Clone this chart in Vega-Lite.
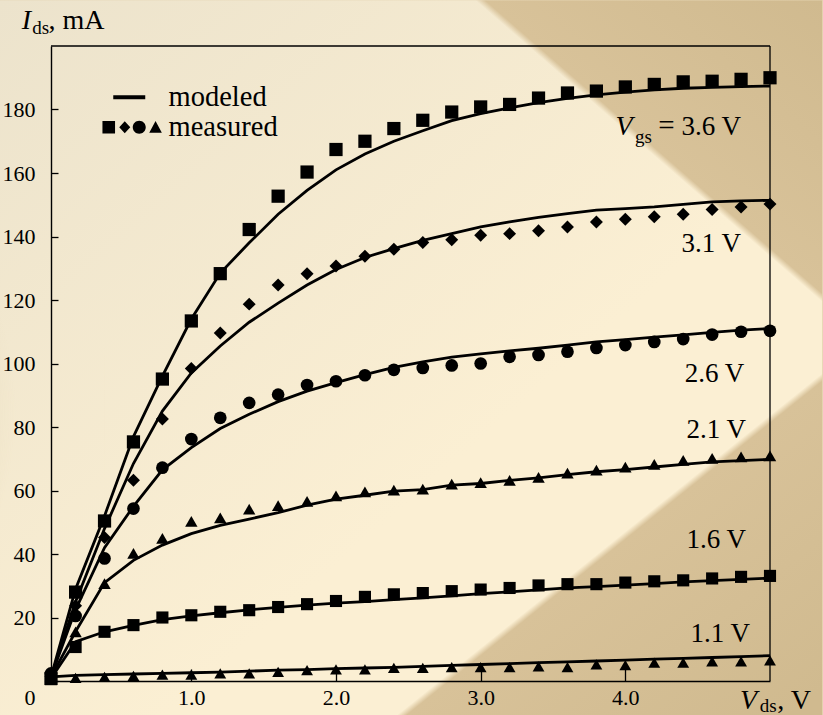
{
  "$schema": "https://vega.github.io/schema/vega-lite/v6.json",
  "width": 719,
  "height": 635,
  "autosize": {"type": "none"},
  "padding": {"left": 51, "top": 46, "right": 53, "bottom": 34},
  "background": "#e3d2ae",
  "config": {
    "font": "Liberation Serif",
    "view": {"stroke": null},
    "axis": {"grid": false, "domainColor": "black", "tickColor": "black", "labelColor": "black", "labelFont": "Liberation Serif", "zindex": 1},
    "legend": {"labelFont": "Liberation Serif"}
  },
  "datasets": {
    "one": [{}],
    "curves": [
      {"vgs": "3.6", "vds": 0.03, "model": 1.3, "meas": 0.8},
      {"vgs": "3.6", "vds": 0.2, "model": 29, "meas": 28},
      {"vgs": "3.6", "vds": 0.4, "model": 52, "meas": 50.4},
      {"vgs": "3.6", "vds": 0.6, "model": 77, "meas": 75.3},
      {"vgs": "3.6", "vds": 0.8, "model": 96, "meas": 95.1},
      {"vgs": "3.6", "vds": 1.0, "model": 114, "meas": 113.4},
      {"vgs": "3.6", "vds": 1.2, "model": 128.5, "meas": 128.3},
      {"vgs": "3.6", "vds": 1.4, "model": 138, "meas": 142.2},
      {"vgs": "3.6", "vds": 1.6, "model": 147, "meas": 152.7},
      {"vgs": "3.6", "vds": 1.8, "model": 154.5, "meas": 160.3},
      {"vgs": "3.6", "vds": 2.0, "model": 161, "meas": 167.4},
      {"vgs": "3.6", "vds": 2.2, "model": 166, "meas": 170},
      {"vgs": "3.6", "vds": 2.4, "model": 170, "meas": 174},
      {"vgs": "3.6", "vds": 2.6, "model": 173.3, "meas": 176.6},
      {"vgs": "3.6", "vds": 2.8, "model": 176.5, "meas": 179.2},
      {"vgs": "3.6", "vds": 3.0, "model": 178.7, "meas": 180.8},
      {"vgs": "3.6", "vds": 3.2, "model": 180.5, "meas": 181.6},
      {"vgs": "3.6", "vds": 3.4, "model": 182.2, "meas": 183.6},
      {"vgs": "3.6", "vds": 3.6, "model": 183.5, "meas": 185.2},
      {"vgs": "3.6", "vds": 3.8, "model": 184.6, "meas": 185.8},
      {"vgs": "3.6", "vds": 4.0, "model": 185.5, "meas": 187.1},
      {"vgs": "3.6", "vds": 4.2, "model": 186.2, "meas": 187.9},
      {"vgs": "3.6", "vds": 4.4, "model": 186.7, "meas": 188.7},
      {"vgs": "3.6", "vds": 4.6, "model": 187.0, "meas": 188.9},
      {"vgs": "3.6", "vds": 4.8, "model": 187.2, "meas": 189.5},
      {"vgs": "3.6", "vds": 5.0, "model": 187.4, "meas": 190},
      {"vgs": "3.1", "vds": 0.03, "model": 1.3, "meas": 1.5},
      {"vgs": "3.1", "vds": 0.2, "model": 25, "meas": 23.7},
      {"vgs": "3.1", "vds": 0.4, "model": 48, "meas": 45.2},
      {"vgs": "3.1", "vds": 0.6, "model": 68.5, "meas": 63.2},
      {"vgs": "3.1", "vds": 0.8, "model": 85, "meas": 82.5},
      {"vgs": "3.1", "vds": 1.0, "model": 97, "meas": 98.4},
      {"vgs": "3.1", "vds": 1.2, "model": 105.5, "meas": 109.6},
      {"vgs": "3.1", "vds": 1.4, "model": 113, "meas": 118.7},
      {"vgs": "3.1", "vds": 1.6, "model": 119, "meas": 124.7},
      {"vgs": "3.1", "vds": 1.8, "model": 124.7, "meas": 128.3},
      {"vgs": "3.1", "vds": 2.0, "model": 129.6, "meas": 130.7},
      {"vgs": "3.1", "vds": 2.2, "model": 133.4, "meas": 133.8},
      {"vgs": "3.1", "vds": 2.4, "model": 136.2, "meas": 136.0},
      {"vgs": "3.1", "vds": 2.6, "model": 138.8, "meas": 138.1},
      {"vgs": "3.1", "vds": 2.8, "model": 140.9, "meas": 139.0},
      {"vgs": "3.1", "vds": 3.0, "model": 143.0, "meas": 140.4},
      {"vgs": "3.1", "vds": 3.2, "model": 144.6, "meas": 140.9},
      {"vgs": "3.1", "vds": 3.4, "model": 146.0, "meas": 141.8},
      {"vgs": "3.1", "vds": 3.6, "model": 147.2, "meas": 143.0},
      {"vgs": "3.1", "vds": 3.8, "model": 148.3, "meas": 144.6},
      {"vgs": "3.1", "vds": 4.0, "model": 148.8, "meas": 145.4},
      {"vgs": "3.1", "vds": 4.2, "model": 149.3, "meas": 146.2},
      {"vgs": "3.1", "vds": 4.4, "model": 150.1, "meas": 147.0},
      {"vgs": "3.1", "vds": 4.6, "model": 150.9, "meas": 148.5},
      {"vgs": "3.1", "vds": 4.8, "model": 151.2, "meas": 149.3},
      {"vgs": "3.1", "vds": 5.0, "model": 151.4, "meas": 150.2},
      {"vgs": "2.6", "vds": 0.03, "model": 1.3, "meas": 2.4},
      {"vgs": "2.6", "vds": 0.2, "model": 22.5, "meas": 20.5},
      {"vgs": "2.6", "vds": 0.4, "model": 42, "meas": 38.6},
      {"vgs": "2.6", "vds": 0.6, "model": 55, "meas": 54.3},
      {"vgs": "2.6", "vds": 0.8, "model": 66.5, "meas": 67.2},
      {"vgs": "2.6", "vds": 1.0, "model": 73.5, "meas": 76.2},
      {"vgs": "2.6", "vds": 1.2, "model": 79.5, "meas": 82.9},
      {"vgs": "2.6", "vds": 1.4, "model": 84, "meas": 87.6},
      {"vgs": "2.6", "vds": 1.6, "model": 88, "meas": 90.2},
      {"vgs": "2.6", "vds": 1.8, "model": 91.3, "meas": 93.2},
      {"vgs": "2.6", "vds": 2.0, "model": 94, "meas": 94.4},
      {"vgs": "2.6", "vds": 2.2, "model": 96.5, "meas": 96.3},
      {"vgs": "2.6", "vds": 2.4, "model": 98.8, "meas": 98.0},
      {"vgs": "2.6", "vds": 2.6, "model": 100.5, "meas": 98.6},
      {"vgs": "2.6", "vds": 2.8, "model": 102, "meas": 99.4},
      {"vgs": "2.6", "vds": 3.0, "model": 103, "meas": 100.0},
      {"vgs": "2.6", "vds": 3.2, "model": 104, "meas": 102.1},
      {"vgs": "2.6", "vds": 3.4, "model": 104.8, "meas": 102.7},
      {"vgs": "2.6", "vds": 3.6, "model": 105.8, "meas": 103.7},
      {"vgs": "2.6", "vds": 3.8, "model": 106.8, "meas": 104.9},
      {"vgs": "2.6", "vds": 4.0, "model": 107.5, "meas": 105.8},
      {"vgs": "2.6", "vds": 4.2, "model": 108.3, "meas": 106.8},
      {"vgs": "2.6", "vds": 4.4, "model": 109, "meas": 107.7},
      {"vgs": "2.6", "vds": 4.6, "model": 109.8, "meas": 109.1},
      {"vgs": "2.6", "vds": 4.8, "model": 110.5, "meas": 110.0},
      {"vgs": "2.6", "vds": 5.0, "model": 111, "meas": 110.3},
      {"vgs": "2.1", "vds": 0.03, "model": 1.3, "meas": 1.5},
      {"vgs": "2.1", "vds": 0.2, "model": 15.6, "meas": 15.5},
      {"vgs": "2.1", "vds": 0.4, "model": 31, "meas": 30.7},
      {"vgs": "2.1", "vds": 0.6, "model": 38, "meas": 40.2},
      {"vgs": "2.1", "vds": 0.8, "model": 42.8, "meas": 44.9},
      {"vgs": "2.1", "vds": 1.0, "model": 46.4, "meas": 50.3},
      {"vgs": "2.1", "vds": 1.2, "model": 49, "meas": 51.4},
      {"vgs": "2.1", "vds": 1.4, "model": 51, "meas": 54.1},
      {"vgs": "2.1", "vds": 1.6, "model": 53, "meas": 55.2},
      {"vgs": "2.1", "vds": 1.8, "model": 55.4, "meas": 56.6},
      {"vgs": "2.1", "vds": 2.0, "model": 57.3, "meas": 58.3},
      {"vgs": "2.1", "vds": 2.2, "model": 58.5, "meas": 59.6},
      {"vgs": "2.1", "vds": 2.4, "model": 59.8, "meas": 60.1},
      {"vgs": "2.1", "vds": 2.6, "model": 60.3, "meas": 60.4},
      {"vgs": "2.1", "vds": 2.8, "model": 61.7, "meas": 62.0},
      {"vgs": "2.1", "vds": 3.0, "model": 62.2, "meas": 62.5},
      {"vgs": "2.1", "vds": 3.2, "model": 63.2, "meas": 63.2},
      {"vgs": "2.1", "vds": 3.4, "model": 64.0, "meas": 64.1},
      {"vgs": "2.1", "vds": 3.6, "model": 65.0, "meas": 65.5},
      {"vgs": "2.1", "vds": 3.8, "model": 65.9, "meas": 66.4},
      {"vgs": "2.1", "vds": 4.0, "model": 66.6, "meas": 67.4},
      {"vgs": "2.1", "vds": 4.2, "model": 67.4, "meas": 68.2},
      {"vgs": "2.1", "vds": 4.4, "model": 68.2, "meas": 69.5},
      {"vgs": "2.1", "vds": 4.6, "model": 69.0, "meas": 70.1},
      {"vgs": "2.1", "vds": 4.8, "model": 69.4, "meas": 70.6},
      {"vgs": "2.1", "vds": 5.0, "model": 69.8, "meas": 70.9},
      {"vgs": "1.6", "vds": 0.03, "model": 0.8, "meas": 0.6},
      {"vgs": "1.6", "vds": 0.2, "model": 12.4, "meas": 10.7},
      {"vgs": "1.6", "vds": 0.4, "model": 15.5, "meas": 15.5},
      {"vgs": "1.6", "vds": 0.6, "model": 17.5, "meas": 17.6},
      {"vgs": "1.6", "vds": 0.8, "model": 19.3, "meas": 20.0},
      {"vgs": "1.6", "vds": 1.0, "model": 20.5, "meas": 20.7},
      {"vgs": "1.6", "vds": 1.2, "model": 21.5, "meas": 21.8},
      {"vgs": "1.6", "vds": 1.4, "model": 22.4, "meas": 22.3},
      {"vgs": "1.6", "vds": 1.6, "model": 23.2, "meas": 23.3},
      {"vgs": "1.6", "vds": 1.8, "model": 23.9, "meas": 24.2},
      {"vgs": "1.6", "vds": 2.0, "model": 24.5, "meas": 25.2},
      {"vgs": "1.6", "vds": 2.2, "model": 25.0, "meas": 26.5},
      {"vgs": "1.6", "vds": 2.4, "model": 25.6, "meas": 27.3},
      {"vgs": "1.6", "vds": 2.6, "model": 26.2, "meas": 27.7},
      {"vgs": "1.6", "vds": 2.8, "model": 26.8, "meas": 28.3},
      {"vgs": "1.6", "vds": 3.0, "model": 27.5, "meas": 28.8},
      {"vgs": "1.6", "vds": 3.2, "model": 28.1, "meas": 29.3},
      {"vgs": "1.6", "vds": 3.4, "model": 28.7, "meas": 30.1},
      {"vgs": "1.6", "vds": 3.6, "model": 29.3, "meas": 30.5},
      {"vgs": "1.6", "vds": 3.8, "model": 29.7, "meas": 30.5},
      {"vgs": "1.6", "vds": 4.0, "model": 30.2, "meas": 31.0},
      {"vgs": "1.6", "vds": 4.2, "model": 30.7, "meas": 31.4},
      {"vgs": "1.6", "vds": 4.4, "model": 31.2, "meas": 31.7},
      {"vgs": "1.6", "vds": 4.6, "model": 31.6, "meas": 32.3},
      {"vgs": "1.6", "vds": 4.8, "model": 32.0, "meas": 32.8},
      {"vgs": "1.6", "vds": 5.0, "model": 32.4, "meas": 33.1},
      {"vgs": "1.1", "vds": 0.03, "model": 1.3, "meas": null},
      {"vgs": "1.1", "vds": 0.2, "model": 1.8, "meas": 1.0},
      {"vgs": "1.1", "vds": 0.4, "model": 2.0, "meas": 1.3},
      {"vgs": "1.1", "vds": 0.6, "model": 2.2, "meas": 1.6},
      {"vgs": "1.1", "vds": 0.8, "model": 2.4, "meas": 2.0},
      {"vgs": "1.1", "vds": 1.0, "model": 2.6, "meas": 2.0},
      {"vgs": "1.1", "vds": 1.2, "model": 2.8, "meas": 2.4},
      {"vgs": "1.1", "vds": 1.4, "model": 3.1, "meas": 2.4},
      {"vgs": "1.1", "vds": 1.6, "model": 3.4, "meas": 2.9},
      {"vgs": "1.1", "vds": 1.8, "model": 3.6, "meas": 3.4},
      {"vgs": "1.1", "vds": 2.0, "model": 3.9, "meas": 3.7},
      {"vgs": "1.1", "vds": 2.2, "model": 4.1, "meas": 3.7},
      {"vgs": "1.1", "vds": 2.4, "model": 4.3, "meas": 4.1},
      {"vgs": "1.1", "vds": 2.6, "model": 4.6, "meas": 4.1},
      {"vgs": "1.1", "vds": 2.8, "model": 4.9, "meas": 4.4},
      {"vgs": "1.1", "vds": 3.0, "model": 5.2, "meas": 4.4},
      {"vgs": "1.1", "vds": 3.2, "model": 5.5, "meas": 4.4},
      {"vgs": "1.1", "vds": 3.4, "model": 5.8, "meas": 4.6},
      {"vgs": "1.1", "vds": 3.6, "model": 6.0, "meas": 4.4},
      {"vgs": "1.1", "vds": 3.8, "model": 6.3, "meas": 5.2},
      {"vgs": "1.1", "vds": 4.0, "model": 6.6, "meas": 5.0},
      {"vgs": "1.1", "vds": 4.2, "model": 6.9, "meas": 5.8},
      {"vgs": "1.1", "vds": 4.4, "model": 7.1, "meas": 5.8},
      {"vgs": "1.1", "vds": 4.6, "model": 7.4, "meas": 6.2},
      {"vgs": "1.1", "vds": 4.8, "model": 7.7, "meas": 6.2},
      {"vgs": "1.1", "vds": 5.0, "model": 8.0, "meas": 6.5}
    ],
    "curveLabels": [
      {"t": "3.6 V", "x": 4.8, "y": 171.9},
      {"t": "3.1 V", "x": 4.8, "y": 135.1},
      {"t": "2.6 V", "x": 4.822, "y": 94.2},
      {"t": "2.1 V", "x": 4.834, "y": 76.6},
      {"t": "1.6 V", "x": 4.834, "y": 41.9},
      {"t": "1.1 V", "x": 4.862, "y": 12.3}
    ],
    "italicText": [
      {"t": "V", "x": 3.932, "y": 171.9},
      {"t": "I", "x": -0.1727, "y": 205.2},
      {"t": "V", "x": 4.792, "y": -8.9}
    ],
    "subText": [
      {"t": "gs", "x": 4.066, "y": 169.6},
      {"t": "ds", "x": -0.1, "y": 203.9},
      {"t": "ds", "x": 4.93, "y": -9.8}
    ],
    "unitText": [
      {"t": ", mA", "x": 0.012, "y": 205.2},
      {"t": ", V", "x": 5.05, "y": -8.9}
    ],
    "eqText": [
      {"t": "=", "x": 4.228, "y": 171.9}
    ]
  },
  "layer": [
    {
      "data": {"name": "one"},
      "mark": {"type": "rect", "color": {"gradient": "linear", "x1": 0, "y1": 0, "x2": 0.6, "y2": 0.6, "stops": [{"offset": 0, "color": "#ece3cc"}, {"offset": 1, "color": "#fbefd3"}]}},
      "encoding": {
        "x": {"datum": -0.3225, "type": "quantitative"}, "x2": {"datum": 5.361},
        "y": {"datum": 214.43, "type": "quantitative"}, "y2": {"datum": -10.77}
      }
    },
    {
      "data": {"name": "one"},
      "mark": {"type": "rect", "color": {"gradient": "radial", "x1": 0, "y1": 0.58, "r1": 0, "x2": 0, "y2": 0.58, "r2": 0.45, "stops": [{"offset": 0, "color": "rgba(200,178,132,0.75)"}, {"offset": 0.5, "color": "rgba(200,178,132,0.4)"}, {"offset": 1, "color": "rgba(200,178,132,0)"}]}},
      "encoding": {
        "x": {"datum": -0.3225, "type": "quantitative"}, "x2": {"datum": 0.4},
        "y": {"datum": 214.43, "type": "quantitative"}, "y2": {"datum": -10.77}
      }
    },
    {
      "data": {"name": "one"},
      "mark": {"type": "rect", "color": {"gradient": "linear", "x1": 0.5, "y1": 0.5, "x2": 1, "y2": 0, "stops": [{"offset": 0, "color": "rgba(216,194,153,0)"}, {"offset": 0.578, "color": "rgba(216,194,153,0)"}, {"offset": 0.59, "color": "rgba(216,194,153,1)"}, {"offset": 1, "color": "rgba(208,186,143,1)"}]}},
      "encoding": {
        "x": {"datum": -0.3225, "type": "quantitative"}, "x2": {"datum": 5.361},
        "y": {"datum": 214.43, "type": "quantitative"}, "y2": {"datum": -10.77}
      }
    },
    {
      "data": {"name": "one"},
      "mark": {"type": "rect", "color": {"gradient": "linear", "x1": 0.5, "y1": 0.5, "x2": 0.962, "y2": 1, "stops": [{"offset": 0, "color": "rgba(216,194,153,0)"}, {"offset": 0.522, "color": "rgba(216,194,153,0)"}, {"offset": 0.534, "color": "rgba(216,194,153,1)"}, {"offset": 1, "color": "rgba(208,186,143,1)"}]}},
      "encoding": {
        "x": {"datum": -0.3225, "type": "quantitative"}, "x2": {"datum": 5.361},
        "y": {"datum": 214.43, "type": "quantitative"}, "y2": {"datum": -10.77}
      }
    },
    {
      "data": {"name": "one"},
      "mark": {"type": "rule", "color": "black", "strokeWidth": 1.3},
      "encoding": {"y": {"datum": 200, "type": "quantitative"}}
    },
    {
      "data": {"name": "one"},
      "mark": {"type": "rule", "color": "black", "strokeWidth": 1.3},
      "encoding": {"x": {"datum": 5.0, "type": "quantitative"}}
    },
    {
      "data": {"name": "curves"},
      "mark": {"type": "line", "strokeWidth": 2.8},
      "encoding": {
        "x": {"field": "vds", "type": "quantitative", "scale": {"domain": [0.03, 5.0], "nice": false, "zero": false},
          "axis": {"values": [1, 2, 3, 4], "format": ".1f", "title": null, "zindex": 2, "domainWidth": 1.6, "tickSize": -12, "tickWidth": 1.3, "labelFont": "Liberation Serif", "labelFontSize": 22, "labelPadding": 18, "labelBaseline": "top"}},
        "y": {"field": "model", "type": "quantitative", "scale": {"domain": [0, 200], "nice": false},
          "axis": {"values": [0, 20, 40, 60, 80, 100, 120, 140, 160, 180], "title": null, "zindex": 2, "domainWidth": 1.4, "tickSize": -7, "tickWidth": 1.3, "labelFont": "Liberation Serif", "labelFontSize": 22, "labelPadding": 23,
            "labelBaseline": "middle",
            "labelOffset": {"condition": {"test": "datum.value === 0", "value": 16}, "value": 0}}},
        "detail": {"field": "vgs"},
        "color": {"datum": "modeled", "scale": {"domain": ["modeled", "measured"], "range": ["black", "black"]},
          "legend": {"orient": "none", "legendX": 66, "legendY": 37, "title": null, "zindex": 2, "padding": 0,
            "labelFont": "Liberation Serif", "labelFontSize": 28.5, "labelColor": "black", "labelOffset": 23, "labelLimit": 300,
            "symbolSize": 400, "rowPadding": 1, "symbolStrokeWidth": 0, "symbolFillColor": "black", "symbolOpacity": 1,
            "encode": {"symbols": {"update": {
              "shape": {"signal": "datum.value === 'modeled' ? 'M-1.8,-0.2H1.4V0.2H-1.8Z' : 'M-2.88,-0.63H-1.62V0.63H-2.88Z M-1.2,0L-0.65,-0.6L-0.1,0L-0.65,0.6Z M0.15,0A0.65,0.65 0 1 0 1.45,0A0.65,0.65 0 1 0 0.15,0Z M1.8,0.55L2.43,-0.62L3.06,0.55Z'"},
              "fill": {"value": "black"}, "stroke": {"value": "transparent"}, "strokeWidth": {"value": 0}, "opacity": {"value": 1}}}}}}
      }
    },
    {
      "data": {"name": "curves"},
      "transform": [{"filter": "datum.meas != null"}],
      "mark": {"type": "point", "filled": true, "strokeWidth": 0, "opacity": 1},
      "encoding": {
        "x": {"field": "vds", "type": "quantitative"},
        "y": {"field": "meas", "type": "quantitative"},
        "shape": {"field": "vgs", "type": "nominal", "scale": {"domain": ["3.6", "3.1", "2.6", "2.1", "1.6", "1.1"], "range": ["square", "diamond", "circle", "triangle-up", "square", "triangle-up"]}, "legend": null},
        "size": {"field": "vgs", "type": "ordinal", "scale": {"domain": ["3.6", "3.1", "2.6", "2.1", "1.6", "1.1"], "range": [175, 140, 135, 155, 175, 155]}, "legend": null},
        "color": {"datum": "measured"}
      }
    },
    {
      "data": {"name": "curveLabels"},
      "mark": {"type": "text", "align": "right", "baseline": "alphabetic", "fontSize": 27, "color": "black"},
      "encoding": {"x": {"field": "x", "type": "quantitative"}, "y": {"field": "y", "type": "quantitative"}, "text": {"field": "t"}}
    },
    {
      "data": {"name": "eqText"},
      "mark": {"type": "text", "align": "left", "baseline": "alphabetic", "fontSize": 29, "color": "black"},
      "encoding": {"x": {"field": "x", "type": "quantitative"}, "y": {"field": "y", "type": "quantitative"}, "text": {"field": "t"}}
    },
    {
      "data": {"name": "italicText"},
      "mark": {"type": "text", "align": "left", "baseline": "alphabetic", "fontSize": 28, "fontStyle": "italic", "color": "black"},
      "encoding": {"x": {"field": "x", "type": "quantitative"}, "y": {"field": "y", "type": "quantitative"}, "text": {"field": "t"}}
    },
    {
      "data": {"name": "subText"},
      "mark": {"type": "text", "align": "left", "baseline": "alphabetic", "fontSize": 19, "color": "black"},
      "encoding": {"x": {"field": "x", "type": "quantitative"}, "y": {"field": "y", "type": "quantitative"}, "text": {"field": "t"}}
    },
    {
      "data": {"name": "unitText"},
      "mark": {"type": "text", "align": "left", "baseline": "alphabetic", "fontSize": 28, "color": "black"},
      "encoding": {"x": {"field": "x", "type": "quantitative"}, "y": {"field": "y", "type": "quantitative"}, "text": {"field": "t"}}
    }
  ]
}
